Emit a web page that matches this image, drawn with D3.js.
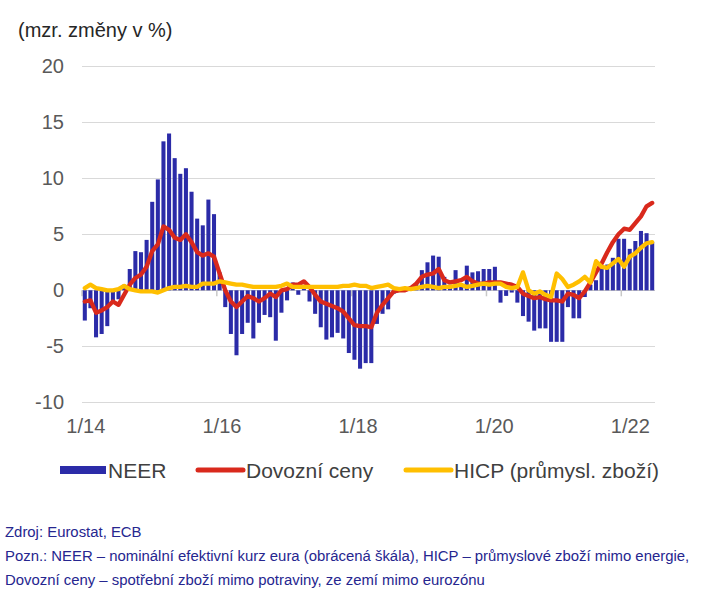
<!DOCTYPE html>
<html><head><meta charset="utf-8">
<script src="https://cdn.jsdelivr.net/npm/d3@7"></script>
<style>
body{margin:0;background:#fff;}
svg{display:block;font-family:"Liberation Sans",Arial,sans-serif;}
</style></head>
<body><svg id="c" width="709" height="606"></svg>
<script>
// months Jan 2014 .. Jun 2022
const months = [];
for (let y = 14; y <= 22; y++) for (let m = 1; m <= 12; m++) { if (y === 22 && m > 6) break; months.push(m + "/" + y); }

const neer = [-2.7,-1.6,-4.2,-3.9,-3.2,-1.0,-0.8,0.5,1.9,3.5,3.4,4.5,
  7.9,9.9,13.3,14.0,11.8,10.4,10.9,8.8,6.4,5.8,8.1,6.8,
  1.6,-1.5,-3.9,-5.8,-3.9,-2.9,-4.3,-2.9,-2.2,-2.4,-4.5,-2.0,
  -0.9,0.7,-0.4,0.2,-1.0,-2.1,-3.3,-4.4,-4.2,-3.8,-4.3,-5.6,
  -6.2,-7.0,-6.5,-6.5,-3.0,-2.1,-1.7,-0.3,0.1,0.1,0.3,0.6,
  1.8,2.5,3.1,3.0,1.2,0.5,1.8,0.5,2.2,1.6,1.7,1.9,
  1.9,2.1,-1.1,-0.5,-0.2,-1.1,-2.3,-2.8,-3.6,-3.4,-3.4,-4.6,
  -4.6,-4.6,-1.5,-2.5,-2.5,-0.6,0.5,0.9,1.9,2.3,2.9,4.6,
  4.6,3.7,4.4,5.3,5.1,4.3];

const dovozni = [-1.0,-0.9,-2.0,-1.8,-1.5,-1.0,-1.3,-0.4,0.5,1.1,1.4,2.1,
  3.5,4.1,5.7,5.4,4.7,4.5,5.0,4.3,3.4,3.1,3.3,3.0,
  1.5,0.0,-1.0,-1.5,-1.0,-0.5,-0.7,-1.0,-0.7,-0.3,-0.6,0.0,
  0.1,0.5,0.5,0.8,0.3,-0.4,-1.0,-1.2,-1.4,-1.6,-1.9,-2.5,
  -3.1,-3.2,-3.2,-3.3,-2.0,-1.3,-0.7,-0.1,0.0,0.0,0.2,0.6,
  1.2,1.4,1.5,1.9,0.9,0.7,0.8,0.9,1.2,0.8,0.6,0.6,
  0.7,0.7,0.7,0.6,0.5,0.3,-0.3,-0.5,-0.7,-0.6,-0.8,-0.9,
  -0.9,-1.0,-0.3,-0.4,-0.7,-0.1,0.7,1.6,2.4,3.4,4.3,5.0,
  5.5,5.4,6.0,6.6,7.5,7.8];

const hicp = [0.2,0.5,0.2,0.1,0.0,0.0,0.1,0.4,0.1,0.0,-0.1,-0.1,
  -0.1,-0.2,0.0,0.2,0.3,0.3,0.4,0.3,0.3,0.6,0.6,0.6,
  0.8,0.7,0.6,0.5,0.5,0.4,0.3,0.3,0.3,0.3,0.3,0.4,
  0.6,0.3,0.3,0.3,0.3,0.3,0.3,0.3,0.3,0.3,0.4,0.4,
  0.5,0.4,0.4,0.2,0.3,0.4,0.5,0.2,0.1,0.2,0.1,0.2,
  0.3,0.4,0.3,0.2,0.3,0.3,0.4,0.5,0.3,0.4,0.5,0.6,
  0.5,0.6,0.6,0.3,0.2,0.3,1.6,0.0,-0.3,-0.1,-0.4,-0.6,
  1.5,1.0,0.3,0.5,0.8,1.2,0.7,2.6,2.1,2.0,2.4,2.8,
  2.1,3.0,3.3,3.8,4.2,4.3];

const yTicks = [-10,-5,0,5,10,15,20];
const xTickLabels = ["1/14","1/16","1/18","1/20","1/22"];
const seriesNames = ["NEER","Dovozní ceny","HICP (průmysl. zboží)"];
const colors = {neer:"#2b2ba8", dov:"#d9291c", hicp:"#ffbf00"};

const svg = d3.select("#c");
const x = d3.scaleBand().domain(months).range([82,655]).paddingInner(0.28).paddingOuter(0.14);
const y = d3.scaleLinear().domain([-10,20]).range([402.3,66.3]);
const cx = m => x(m) + x.bandwidth()/2;

// gridlines
svg.append("g").selectAll("line").data(yTicks).join("line")
  .attr("x1",82).attr("x2",655).attr("y1",d=>y(d)).attr("y2",d=>y(d))
  .attr("stroke",d=>d===0?"#c8c8c8":"#d9d9d9").attr("stroke-width",1).attr("shape-rendering","crispEdges");

// y labels
svg.append("g").selectAll("text").data(yTicks).join("text")
  .attr("x",64).attr("y",d=>y(d)).attr("dy","0.35em").attr("text-anchor","end")
  .attr("font-size",20).attr("fill","#595959").text(d=>d);

// x tick marks at 2-year boundaries
const step = x.step();
svg.append("g").selectAll("line").data(xTickLabels).join("line")
  .attr("x1",d=>x(d)-(step-x.bandwidth())/2).attr("x2",d=>x(d)-(step-x.bandwidth())/2)
  .attr("y1",y(0)).attr("y2",y(0)+6).attr("stroke","#c8c8c8").attr("stroke-width",1.5);

// x labels
svg.append("g").selectAll("text").data(xTickLabels).join("text")
  .attr("x",(d,i)=>cx(d)+1+i*1.3).attr("y",433).attr("text-anchor","middle")
  .attr("font-size",20).attr("fill","#595959").text(d=>d);

// bars
svg.append("g").selectAll("rect").data(neer).join("rect")
  .attr("x",(d,i)=>x(months[i])).attr("width",x.bandwidth())
  .attr("y",d=>y(Math.max(0,d))).attr("height",d=>Math.abs(y(d)-y(0)))
  .attr("fill",colors.neer);

const line = d3.line().x((d,i)=>cx(months[i])).y(d=>y(d)).curve(d3.curveLinear);
svg.append("path").datum(dovozni).attr("d",line).attr("fill","none")
  .attr("stroke",colors.dov).attr("stroke-width",4.3).attr("stroke-linejoin","round").attr("stroke-linecap","round");
svg.append("path").datum(hicp).attr("d",line).attr("fill","none")
  .attr("stroke",colors.hicp).attr("stroke-width",4.3).attr("stroke-linejoin","round").attr("stroke-linecap","round");

// title
svg.append("text").attr("x",18).attr("y",37).attr("font-size",20).attr("fill","#262626").text("(mzr. změny v %)");

// legend
const lg = svg.append("g");
lg.append("rect").attr("x",60).attr("y",466).attr("width",46).attr("height",8).attr("fill",colors.neer);
lg.append("text").attr("x",108).attr("y",477.5).attr("font-size",21).attr("fill","#404040").text(seriesNames[0]);
lg.append("line").attr("x1",198).attr("x2",243).attr("y1",470).attr("y2",470).attr("stroke",colors.dov).attr("stroke-width",5).attr("stroke-linecap","round");
lg.append("text").attr("x",246).attr("y",477.5).attr("font-size",21).attr("fill","#404040").text(seriesNames[1]);
lg.append("line").attr("x1",406).attr("x2",451).attr("y1",470).attr("y2",470).attr("stroke",colors.hicp).attr("stroke-width",5).attr("stroke-linecap","round");
lg.append("text").attr("x",454).attr("y",477.5).attr("font-size",21).attr("fill","#404040").text(seriesNames[2]);

// footer
const foot = ["Zdroj: Eurostat, ECB",
  "Pozn.: NEER – nominální efektivní kurz eura (obrácená škála), HICP – průmyslové zboží mimo energie,",
  "Dovozní ceny – spotřební zboží mimo potraviny, ze zemí mimo eurozónu"];
svg.append("g").selectAll("text").data(foot).join("text")
  .attr("x",5).attr("y",(d,i)=>537+i*24).attr("font-size",14.9).attr("fill","#26268f").text(d=>d);
</script></body></html>
